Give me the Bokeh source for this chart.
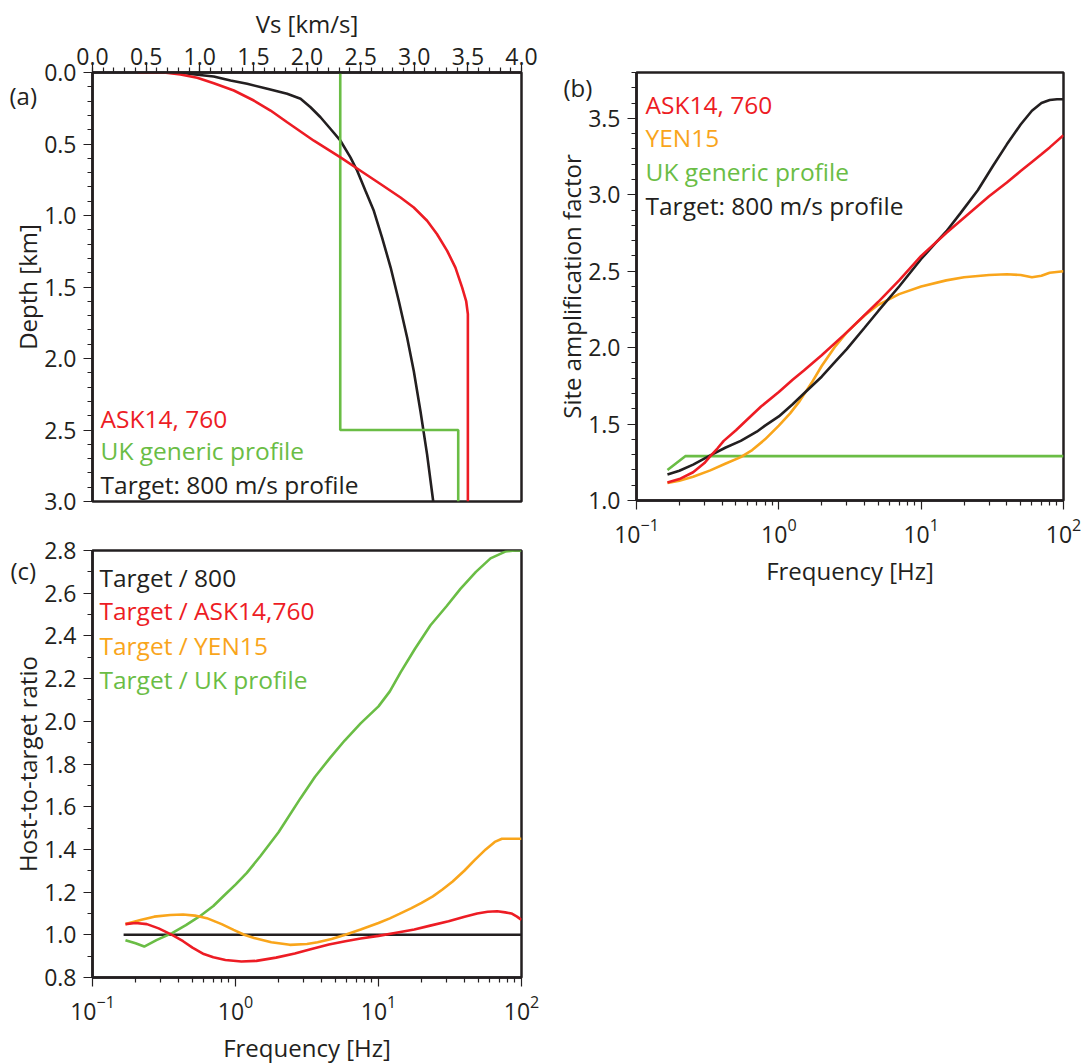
from bokeh.plotting import figure
from bokeh.layouts import row, column
from bokeh.models import Range1d, Label, FixedTicker, NumeralTickFormatter
from bokeh.core.properties import value
from bokeh.embed import file_html
from bokeh.resources import INLINE

# ---------------- data ----------------
# (a) Vs profiles (Vs in km/s, depth in km)
ask_vs = [0.423, 0.665, 0.820, 0.976, 1.131, 1.318, 1.504, 1.660, 1.815, 2.064, 2.312, 2.499,
          2.685, 2.872, 2.996, 3.12, 3.213, 3.307, 3.384, 3.447, 3.484, 3.5, 3.5]
ask_depth = [0.0, 0.0, 0.014, 0.037, 0.075, 0.126, 0.196, 0.266, 0.348, 0.477, 0.593, 0.687,
             0.780, 0.874, 0.944, 1.037, 1.131, 1.247, 1.364, 1.504, 1.598, 1.69, 3.0]
uk_vs = [2.31, 2.31, 3.41, 3.41]
uk_depth = [0.0, 2.5, 2.5, 3.0]
tgt_vs = [0.423, 0.82, 0.914, 1.13, 1.287, 1.442, 1.63, 1.815, 1.94, 2.033, 2.126, 2.22, 2.312,
          2.405, 2.468, 2.545, 2.623, 2.70, 2.78, 2.856, 2.934, 2.996, 3.058, 3.12, 3.177]
tgt_depth = [0.0, 0.0, 0.01, 0.028, 0.056, 0.079, 0.114, 0.149, 0.184, 0.243, 0.313, 0.395, 0.477,
             0.593, 0.687, 0.827, 0.967, 1.154, 1.364, 1.598, 1.855, 2.089, 2.369, 2.672, 3.0]

# (b) site amplification factor vs frequency (Hz)
ask_f = [0.165, 0.2, 0.25, 0.3, 0.33, 0.37, 0.41, 0.5, 0.6, 0.75, 1.0, 1.25, 1.5, 2, 3, 5, 7, 10,
         15, 20, 30, 40, 50, 60, 70, 80, 100]
ask_amp = [1.118, 1.14, 1.185, 1.245, 1.29, 1.34, 1.39, 1.46, 1.53, 1.615, 1.71, 1.79, 1.85, 1.95,
           2.10, 2.30, 2.44, 2.60, 2.75, 2.85, 2.99, 3.08, 3.155, 3.215, 3.265, 3.31, 3.39]
yen_f = [0.165, 0.2, 0.25, 0.33, 0.42, 0.54, 0.65, 0.8, 1.0, 1.2, 1.4, 1.7, 2, 2.5, 3, 4, 5, 7, 10,
         15, 20, 30, 40, 50, 60, 70, 80, 100]
yen_amp = [1.114, 1.13, 1.155, 1.197, 1.24, 1.284, 1.33, 1.40, 1.49, 1.57, 1.65, 1.77, 1.88, 2.01,
           2.10, 2.21, 2.28, 2.35, 2.40, 2.44, 2.46, 2.475, 2.48, 2.475, 2.46, 2.47, 2.49, 2.50]
ukb_f = [0.165, 0.22, 100]
ukb_amp = [1.20, 1.29, 1.29]
tgt_f = [0.165, 0.2, 0.25, 0.33, 0.42, 0.54, 0.7, 0.8, 1.0, 1.25, 1.5, 2, 2.5, 3, 4, 5, 7, 10, 12.5,
         15, 18.9, 25, 32, 40, 50, 60, 70, 80, 90, 100]
tgt_amp = [1.17, 1.195, 1.235, 1.295, 1.345, 1.39, 1.45, 1.49, 1.55, 1.63, 1.70, 1.81, 1.91, 1.99,
           2.13, 2.24, 2.40, 2.58, 2.68, 2.76, 2.88, 3.03, 3.19, 3.33, 3.46, 3.55, 3.60, 3.62,
           3.625, 3.625]

# (c) host-to-target ratios vs frequency (Hz)
r800_f = [0.165, 100]
r800 = [1.0, 1.0]
rask_f = [0.17, 0.2, 0.24, 0.29, 0.36, 0.43, 0.5, 0.6, 0.7, 0.85, 1.1, 1.4, 1.92, 2.6, 3.35, 4.5,
          5.86, 7.5, 10, 13.3, 17.8, 23, 30.9, 40, 49, 58, 67.6, 77, 85, 93, 100]
rask = [1.05, 1.055, 1.05, 1.03, 1.0, 0.97, 0.94, 0.91, 0.895, 0.882, 0.875, 0.878, 0.893, 0.912,
        0.932, 0.955, 0.97, 0.983, 0.995, 1.01, 1.025, 1.043, 1.063, 1.085, 1.10, 1.108, 1.11,
        1.105, 1.10, 1.085, 1.07]
ryen_f = [0.17, 0.22, 0.27, 0.35, 0.43, 0.52, 0.63, 0.8, 0.97, 1.15, 1.35, 1.78, 2.4, 3.16, 3.75,
          4.7, 5.86, 7.5, 10, 12, 14, 17, 20, 24, 28, 33, 39.8, 47, 56.2, 65, 73, 80, 100]
ryen = [1.05, 1.07, 1.085, 1.093, 1.095, 1.09, 1.078, 1.05, 1.023, 1.0, 0.985, 0.965, 0.953, 0.957,
        0.965, 0.98, 1.0, 1.025, 1.055, 1.077, 1.098, 1.125, 1.15, 1.18, 1.212, 1.25, 1.30, 1.35,
        1.40, 1.435, 1.45, 1.45, 1.45]
ruk_f = [0.17, 0.2, 0.23, 0.28, 0.36, 0.45, 0.56, 0.7, 0.85, 1.0, 1.2, 1.5, 2.0, 2.85, 3.6, 4.6,
         5.8, 7.5, 10, 12, 14.3, 18, 23.1, 30, 37.4, 48, 60.7, 77, 90, 100]
ruk = [0.975, 0.96, 0.945, 0.975, 1.008, 1.045, 1.086, 1.135, 1.19, 1.235, 1.29, 1.37, 1.48, 1.64,
       1.74, 1.83, 1.91, 1.99, 2.07, 2.14, 2.23, 2.34, 2.45, 2.54, 2.62, 2.70, 2.763, 2.795,
       2.80, 2.80]

legend_a = ["ASK14, 760", "UK generic profile", "Target: 800 m/s profile"]
legend_b = ["ASK14, 760", "YEN15", "UK generic profile", "Target: 800 m/s profile"]
legend_c = ["Target / 800", "Target / ASK14,760", "Target  / YEN15", "Target / UK profile"]

vs_ticks = [0.0, 0.5, 1.0, 1.5, 2.0, 2.5, 3.0, 3.5, 4.0]
depth_ticks = [0.0, 0.5, 1.0, 1.5, 2.0, 2.5, 3.0]
amp_ticks = [1.0, 1.5, 2.0, 2.5, 3.0, 3.5]
ratio_ticks = [0.8, 1.0, 1.2, 1.4, 1.6, 1.8, 2.0, 2.2, 2.4, 2.6, 2.8]
freq_ticks = [0.1, 1, 10, 100]
freq_minor = [m * 10.0 ** e for e in (-1, 0, 1) for m in range(2, 10)]
vs_minor = [i / 10 for i in range(0, 41)]
depth_minor = [i / 10 for i in range(0, 31)]
amp_minor = [1.0 + i / 10 for i in range(0, 29)]
ratio_minor = [0.8 + i / 10 for i in range(0, 21)]

# ---------------- style ----------------
FONT = "Open Sans"
INK = "#231f20"
RED = "#ed1c24"
ORANGE = "#f9a51b"
GREEN = "#6abd45"
LW = 2.6


def style_axis(ax, label, label_standoff, title_standoff):
    ax.axis_label = label
    ax.axis_label_text_font = FONT
    ax.axis_label_text_font_size = "24px"
    ax.axis_label_text_font_style = "normal"
    ax.axis_label_text_color = INK
    ax.major_label_text_font = FONT
    ax.major_label_text_font_size = "23px"
    ax.major_label_text_color = INK
    ax.axis_line_color = INK
    ax.axis_line_width = 2.5
    ax.major_tick_line_color = INK
    ax.minor_tick_line_color = INK
    ax.major_tick_line_width = 1.2
    ax.minor_tick_line_width = 1.2
    ax.major_tick_out = 9
    ax.major_tick_in = 0
    ax.minor_tick_out = 5
    ax.minor_tick_in = 0
    ax.major_label_standoff = label_standoff
    ax.axis_label_standoff = title_standoff


def base_fig(**kw):
    p = figure(output_backend="svg", toolbar_location=None, **kw)
    p.grid.visible = False
    p.outline_line_color = INK
    p.outline_line_width = 2.5
    p.outline_line_alpha = 1.0
    p.background_fill_color = "white"
    p.border_fill_color = "white"
    return p


def add_text(p, x, y, text, color, size="24.5px"):
    p.add_layout(Label(x=x, y=y, text=text, text_color=color, text_font=FONT,
                       text_font_size=size, text_baseline="alphabetic", text_align="left"))


def add_tag(p, x, y, text):
    p.text(x=[x], y=[y], text=[text], text_color=INK, text_font=value(FONT),
           text_font_size=value("24px"), text_baseline="alphabetic", text_align="left",
           level="overlay")


# ---------------- panel (a) ----------------
pa = base_fig(frame_width=429, frame_height=429, x_range=Range1d(0, 4), y_range=Range1d(3, 0),
              x_axis_location="above", min_border_left=92, min_border_right=27,
              min_border_top=72, min_border_bottom=19)
style_axis(pa.xaxis[0], "Vs [km/s]", -1, 5)
style_axis(pa.yaxis[0], "Depth [km]", 7, -3)
pa.xaxis.ticker = FixedTicker(ticks=vs_ticks, minor_ticks=vs_minor)
pa.yaxis.ticker = FixedTicker(ticks=depth_ticks, minor_ticks=depth_minor)
pa.xaxis.formatter = NumeralTickFormatter(format="0.0")
pa.yaxis.formatter = NumeralTickFormatter(format="0.0")
pa.line(tgt_vs, tgt_depth, line_color=INK, line_width=LW)
pa.line(uk_vs, uk_depth, line_color=GREEN, line_width=LW)
pa.line(ask_vs, ask_depth, line_color=RED, line_width=LW)
for txt, col, yy in zip(legend_a, [RED, GREEN, INK], [2.418, 2.645, 2.88]):
    add_text(pa, 0.075, yy, txt, col)
add_tag(pa, -0.774, 0.161, "(a)")

# ---------------- panel (b) ----------------
pb = base_fig(frame_width=427, frame_height=428, x_axis_type="log", x_range=Range1d(0.1, 100),
              y_range=Range1d(1.0, 3.8), min_border_left=88, min_border_right=22,
              min_border_top=72, min_border_bottom=90)
style_axis(pb.xaxis[0], "Frequency [Hz]", 8, 8)
style_axis(pb.yaxis[0], "Site amplification factor", 7, -3)
pb.xaxis.ticker = FixedTicker(ticks=freq_ticks, minor_ticks=freq_minor)
pb.yaxis.ticker = FixedTicker(ticks=amp_ticks, minor_ticks=amp_minor)
pb.yaxis.formatter = NumeralTickFormatter(format="0.0")
pb.line(ukb_f, ukb_amp, line_color=GREEN, line_width=LW)
pb.line(yen_f, yen_amp, line_color=ORANGE, line_width=LW)
pb.line(tgt_f, tgt_amp, line_color=INK, line_width=LW)
pb.line(ask_f, ask_amp, line_color=RED, line_width=LW)
for txt, col, yy in zip(legend_b, [RED, ORANGE, GREEN, INK], [3.592, 3.373, 3.154, 2.93]):
    add_text(pb, 0.1157, yy, txt, col)
add_tag(pb, 0.0307, 3.703, "(b)")

# ---------------- panel (c) ----------------
pc = base_fig(frame_width=429, frame_height=427, x_axis_type="log", x_range=Range1d(0.1, 100),
              y_range=Range1d(0.8, 2.8), min_border_left=92, min_border_right=27,
              min_border_top=30, min_border_bottom=86)
style_axis(pc.xaxis[0], "Frequency [Hz]", 8, 8)
style_axis(pc.yaxis[0], "Host-to-target ratio", 7, -3)
pc.xaxis.ticker = FixedTicker(ticks=freq_ticks, minor_ticks=freq_minor)
pc.yaxis.ticker = FixedTicker(ticks=ratio_ticks, minor_ticks=ratio_minor)
pc.yaxis.formatter = NumeralTickFormatter(format="0.0")
pc.line(r800_f, r800, line_color=INK, line_width=LW)
pc.line(ruk_f, ruk, line_color=GREEN, line_width=LW)
pc.line(ryen_f, ryen, line_color=ORANGE, line_width=LW)
pc.line(rask_f, rask, line_color=RED, line_width=LW)
for txt, col, yy in zip(legend_c, [INK, RED, ORANGE, GREEN], [2.675, 2.517, 2.353, 2.197]):
    add_text(pc, 0.1119, yy, txt, col)
add_tag(pc, 0.0267, 2.706, "(c)")

layout = row(column(pa, pc), pb)
open("out.html", "w").write(file_html(layout, INLINE))
